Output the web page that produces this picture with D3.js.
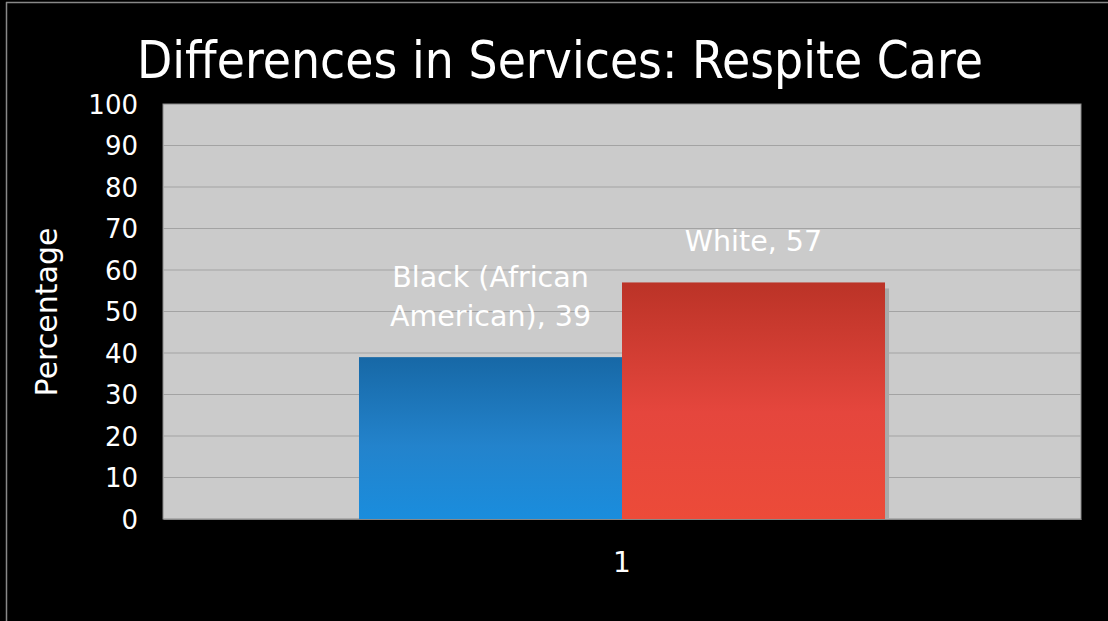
<!DOCTYPE html>
<html><head><meta charset="utf-8">
<script src="https://cdn.jsdelivr.net/npm/d3@7"></script>
<style>body{margin:0;background:#000;overflow:hidden}svg{display:block}</style>
</head><body>
<script>
const categories = ["1"];
const seriesNames = ["Black (African American)", "White"];
const seriesValues = [39, 57];
const labelLines = [["Black (African", "American), 39"], ["White, 57"]];
const yTicks = [0,10,20,30,40,50,60,70,80,90,100];
const title = "Differences in Services: Respite Care";
const yTitle = "Percentage";

const FONT = "'DejaVu Sans', Verdana, sans-serif";
const W = 1108, H = 621;
const m = {left:163, right:1081, top:104, bottom:519};
const svg = d3.select("body").append("svg").attr("width", W).attr("height", H);
svg.append("rect").attr("width", W).attr("height", H).attr("fill", "#000");
svg.append("line").attr("x1",6).attr("x2",W).attr("y1",2.5).attr("y2",2.5).attr("stroke","#888").attr("stroke-width",1.5);
svg.append("line").attr("x1",6.5).attr("x2",6.5).attr("y1",2).attr("y2",H).attr("stroke","#888").attr("stroke-width",1.5);

const defs = svg.append("defs");
const gB = defs.append("linearGradient").attr("id","gb").attr("x1",0).attr("x2",0).attr("y1",0).attr("y2",1);
gB.append("stop").attr("offset","0%").attr("stop-color","#1768a6");
gB.append("stop").attr("offset","55%").attr("stop-color","#2383cc");
gB.append("stop").attr("offset","100%").attr("stop-color","#1a8ddd");
const gR = defs.append("linearGradient").attr("id","gr").attr("x1",0).attr("x2",0).attr("y1",0).attr("y2",1);
gR.append("stop").attr("offset","0%").attr("stop-color","#bb3327");
gR.append("stop").attr("offset","55%").attr("stop-color","#e5463d");
gR.append("stop").attr("offset","100%").attr("stop-color","#ec4b39");
const fills = ["url(#gb)", "url(#gr)"];

const y = d3.scaleLinear().domain([0,100]).range([m.bottom, m.top]);
const x0 = d3.scaleBand().domain(categories).range([m.left, m.right]).paddingInner(0).paddingOuter(0.3726);
const x1 = d3.scaleBand().domain(seriesNames).range([0, x0.bandwidth()]).padding(0);

svg.append("rect").attr("x", m.left).attr("y", m.top).attr("width", m.right-m.left).attr("height", m.bottom-m.top)
  .attr("fill", "#cbcbcb").attr("stroke", "#8a8a8a").attr("stroke-width", 1);

svg.append("g").selectAll("line").data(yTicks.slice(1, -1)).join("line")
  .attr("x1", m.left).attr("x2", m.right).attr("y1", d => y(d)).attr("y2", d => y(d))
  .attr("stroke", "#a3a3a3").attr("stroke-width", 1.2);

const yAxis = svg.append("g").attr("transform", `translate(${m.left},0)`)
  .call(d3.axisLeft(y).tickValues(yTicks).tickSize(0).tickPadding(25));
yAxis.select(".domain").remove();
yAxis.selectAll("text").attr("fill", "#fff").attr("font-size", 26).attr("font-family", FONT).attr("dy", "0.36em");

const xAxis = svg.append("g").attr("transform", `translate(0,${m.bottom})`)
  .call(d3.axisBottom(x0).tickSize(0).tickPadding(33));
xAxis.select(".domain").attr("stroke","#888");
xAxis.selectAll("text").attr("fill", "#fff").attr("font-size", 28).attr("font-family", FONT);

const groups = svg.append("g").selectAll("g").data(categories).join("g")
  .attr("transform", d => `translate(${x0(d)},0)`);
const data = seriesNames.map((s,i) => ({s, v: seriesValues[i], i}));
groups.selectAll("rect.sh").data(data.filter(d => d.i === 1)).join("rect").attr("class","sh")
  .attr("x", d => x1(d.s) + 4).attr("y", d => y(d.v) + 6)
  .attr("width", x1.bandwidth()).attr("height", d => m.bottom - y(d.v) - 6)
  .attr("fill", "#a9a9a9");
groups.selectAll("rect.bar").data(data).join("rect").attr("class","bar")
  .attr("x", d => x1(d.s)).attr("y", d => y(d.v))
  .attr("width", x1.bandwidth()).attr("height", d => m.bottom - y(d.v))
  .attr("fill", d => fills[d.i]);

groups.selectAll("text.lbl").data(data).join("text").attr("class","lbl")
  .attr("text-anchor","middle").attr("fill","#fff").attr("font-size",28.5)
  .attr("font-family",FONT)
  .each(function(d){
    const lines = labelLines[d.i];
    const cx = x1(d.s) + x1.bandwidth()/2;
    const baseY = y(d.v) - 31 - (lines.length-1)*39;
    d3.select(this).selectAll("tspan").data(lines).join("tspan")
      .attr("x", cx).attr("y", (t,k) => baseY + k*39).text(t => t);
  });

svg.append("text").attr("x", 560).attr("y", 78).attr("text-anchor","middle")
  .attr("fill","#fff").attr("font-size",51).attr("font-family",FONT)
  .attr("textLength", 846).attr("lengthAdjust","spacingAndGlyphs").text(title);

svg.append("text").attr("transform","translate(57,312) rotate(-90)").attr("text-anchor","middle")
  .attr("fill","#fff").attr("font-size",30).attr("font-family",FONT).text(yTitle);
</script>
</body></html>
